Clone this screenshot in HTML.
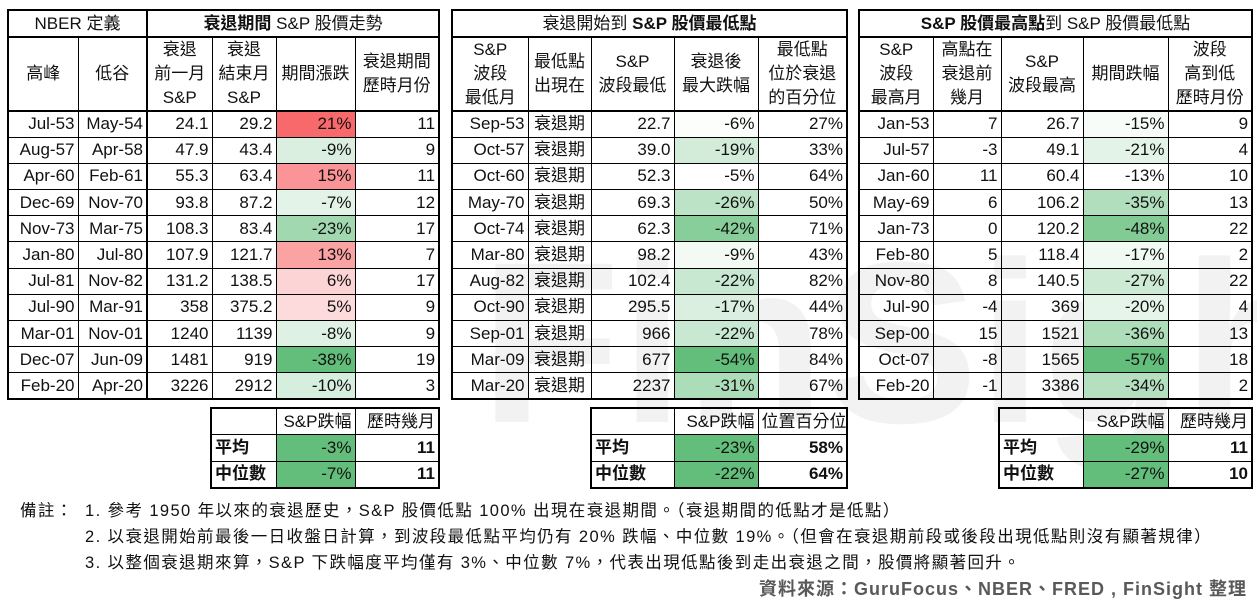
<!DOCTYPE html>
<html><head><meta charset="utf-8"><style>
*{margin:0;padding:0;box-sizing:border-box}
body{width:1257px;height:610px;background:#fff;position:relative;overflow:hidden;font-family:"Liberation Sans","Noto Sans CJK TC",sans-serif;color:#111}
table{position:absolute;border-collapse:collapse;table-layout:fixed;border:2px solid #000;font-size:17px}
td{border:1px solid #000;padding:0 3px;text-align:right;white-space:nowrap;overflow:hidden;line-height:22px}
tr.d td{height:26.2px}
tr.t td{height:27px;text-align:center;border-bottom:2px solid #000}
tr.h td{height:73px;text-align:center;line-height:24px;border-bottom:2px solid #000}
td.c{text-align:center}
.s td{height:26.5px}
.s td.l{text-align:left;font-weight:bold}
.g{background:#63BE7B}
.wmbox{position:absolute;left:470px;top:230px;width:787px;height:260px;overflow:hidden;z-index:-1}
.wm{position:absolute;left:10px;top:-20px;font-size:230px;font-weight:bold;color:#f2f2f2;white-space:nowrap}
.note{position:absolute;font-size:16.5px;color:#111;white-space:nowrap;letter-spacing:1.4px}
</style></head><body>
<div class="wmbox"><div class="wm">FinSight</div></div>

<table style="left:7px;top:9px;width:431px">
<colgroup><col style="width:70px"><col style="width:69px"><col style="width:65px"><col style="width:64px"><col style="width:79px"><col style="width:84px"></colgroup>
<tr class="t"><td colspan="2">NBER 定義</td><td colspan="4" style="border-left:2px solid #000"><b>衰退期間</b> S&amp;P 股價走勢</td></tr>
<tr class="h"><td>高峰</td><td style="border-right:2px solid #000">低谷</td><td>衰退<br>前一月<br>S&amp;P</td><td>衰退<br>結束月<br>S&amp;P</td><td>期間漲跌</td><td>衰退期間<br>歷時月份</td></tr>
<tr class="d"><td>Jul-53</td><td style="border-right:2px solid #000">May-54</td><td>24.1</td><td>29.2</td><td style="background:#F8696B">21%</td><td>11</td></tr>
<tr class="d"><td>Aug-57</td><td style="border-right:2px solid #000">Apr-58</td><td>47.9</td><td>43.4</td><td style="background:#DAEFDF">-9%</td><td>9</td></tr>
<tr class="d"><td>Apr-60</td><td style="border-right:2px solid #000">Feb-61</td><td>55.3</td><td>63.4</td><td style="background:#FA9496">15%</td><td>11</td></tr>
<tr class="d"><td>Dec-69</td><td style="border-right:2px solid #000">Nov-70</td><td>93.8</td><td>87.2</td><td style="background:#E3F3E7">-7%</td><td>12</td></tr>
<tr class="d"><td>Nov-73</td><td style="border-right:2px solid #000">Mar-75</td><td>108.3</td><td>83.4</td><td style="background:#A1D8B0">-23%</td><td>17</td></tr>
<tr class="d"><td>Jan-80</td><td style="border-right:2px solid #000">Jul-80</td><td>107.9</td><td>121.7</td><td style="background:#FBA2A3">13%</td><td>7</td></tr>
<tr class="d"><td>Jul-81</td><td style="border-right:2px solid #000">Nov-82</td><td>131.2</td><td>138.5</td><td style="background:#FDD4D5">6%</td><td>17</td></tr>
<tr class="d"><td>Jul-90</td><td style="border-right:2px solid #000">Mar-91</td><td>358</td><td>375.2</td><td style="background:#FDDBDC">5%</td><td>9</td></tr>
<tr class="d"><td>Mar-01</td><td style="border-right:2px solid #000">Nov-01</td><td>1240</td><td>1139</td><td style="background:#DEF1E3">-8%</td><td>9</td></tr>
<tr class="d"><td>Dec-07</td><td style="border-right:2px solid #000">Jun-09</td><td>1481</td><td>919</td><td style="background:#63BE7B">-38%</td><td>19</td></tr>
<tr class="d"><td>Feb-20</td><td style="border-right:2px solid #000">Apr-20</td><td>3226</td><td>2912</td><td style="background:#D6EEDD">-10%</td><td>3</td></tr>
</table>

<table style="left:451px;top:9px;width:395px">
<colgroup><col style="width:76px"><col style="width:63px"><col style="width:83px"><col style="width:84px"><col style="width:89px"></colgroup>
<tr class="t"><td colspan="5">衰退開始到 <b>S&amp;P 股價最低點</b></td></tr>
<tr class="h"><td>S&amp;P<br>波段<br>最低月</td><td>最低點<br>出現在</td><td>S&amp;P<br>波段最低</td><td>衰退後<br>最大跌幅</td><td>最低點<br>位於衰退<br>的百分位</td></tr>
<tr class="d"><td>Sep-53</td><td class="c">衰退期</td><td>22.7</td><td style="background:#FCFEFC">-6%</td><td>27%</td></tr>
<tr class="d"><td>Oct-57</td><td class="c">衰退期</td><td>39.0</td><td style="background:#D2ECD9">-19%</td><td>33%</td></tr>
<tr class="d"><td>Oct-60</td><td class="c">衰退期</td><td>52.3</td><td>-5%</td><td>64%</td></tr>
<tr class="d"><td>May-70</td><td class="c">衰退期</td><td>69.3</td><td style="background:#BCE3C6">-26%</td><td>50%</td></tr>
<tr class="d"><td>Oct-74</td><td class="c">衰退期</td><td>62.3</td><td style="background:#88CE9B">-42%</td><td>71%</td></tr>
<tr class="d"><td>Mar-80</td><td class="c">衰退期</td><td>98.2</td><td style="background:#F3FAF4">-9%</td><td>43%</td></tr>
<tr class="d"><td>Aug-82</td><td class="c">衰退期</td><td>102.4</td><td style="background:#C8E8D1">-22%</td><td>82%</td></tr>
<tr class="d"><td>Oct-90</td><td class="c">衰退期</td><td>295.5</td><td style="background:#DAEFDF">-17%</td><td>44%</td></tr>
<tr class="d"><td>Sep-01</td><td class="c">衰退期</td><td>966</td><td style="background:#C8E8D1">-22%</td><td>78%</td></tr>
<tr class="d"><td>Mar-09</td><td class="c">衰退期</td><td>677</td><td style="background:#63BE7B">-54%</td><td>84%</td></tr>
<tr class="d"><td>Mar-20</td><td class="c">衰退期</td><td>2237</td><td style="background:#ACDDB9">-31%</td><td>67%</td></tr>
</table>

<table style="left:858px;top:9px;width:393px">
<colgroup><col style="width:74px"><col style="width:68px"><col style="width:82px"><col style="width:85px"><col style="width:84px"></colgroup>
<tr class="t"><td colspan="5"><b>S&amp;P 股價最高點</b>到 S&amp;P 股價最低點</td></tr>
<tr class="h"><td>S&amp;P<br>波段<br>最高月</td><td>高點在<br>衰退前<br>幾月</td><td>S&amp;P<br>波段最高</td><td>期間跌幅</td><td>波段<br>高到低<br>歷時月份</td></tr>
<tr class="d"><td>Jan-53</td><td>7</td><td>26.7</td><td style="background:#F7FCF8">-15%</td><td>9</td></tr>
<tr class="d"><td>Jul-57</td><td>-3</td><td>49.1</td><td style="background:#E3F3E7">-21%</td><td>4</td></tr>
<tr class="d"><td>Jan-60</td><td>11</td><td>60.4</td><td>-13%</td><td>10</td></tr>
<tr class="d"><td>May-69</td><td>6</td><td>106.2</td><td style="background:#B1DFBD">-35%</td><td>13</td></tr>
<tr class="d"><td>Jan-73</td><td>0</td><td>120.2</td><td style="background:#82CB95">-48%</td><td>22</td></tr>
<tr class="d"><td>Feb-80</td><td>5</td><td>118.4</td><td style="background:#F1F9F3">-17%</td><td>2</td></tr>
<tr class="d"><td>Nov-80</td><td>8</td><td>140.5</td><td style="background:#CDEAD5">-27%</td><td>22</td></tr>
<tr class="d"><td>Jul-90</td><td>-4</td><td>369</td><td style="background:#E6F5EA">-20%</td><td>4</td></tr>
<tr class="d"><td>Sep-00</td><td>15</td><td>1521</td><td style="background:#AEDDBA">-36%</td><td>13</td></tr>
<tr class="d"><td>Oct-07</td><td>-8</td><td>1565</td><td style="background:#63BE7B">-57%</td><td>18</td></tr>
<tr class="d"><td>Feb-20</td><td>-1</td><td>3386</td><td style="background:#B4E0C0">-34%</td><td>2</td></tr>
</table>

<table class="s" style="left:210px;top:407px;width:228px">
<colgroup><col style="width:65px"><col style="width:79px"><col style="width:84px"></colgroup>
<tr><td></td><td>S&amp;P跌幅</td><td>歷時幾月</td></tr>
<tr><td class="l">平均</td><td class="g">-3%</td><td><b>11</b></td></tr>
<tr><td class="l">中位數</td><td class="g">-7%</td><td><b>11</b></td></tr>
</table>

<table class="s" style="left:590px;top:407px;width:256px">
<colgroup><col style="width:83px"><col style="width:84px"><col style="width:89px"></colgroup>
<tr><td></td><td>S&amp;P跌幅</td><td>位置百分位</td></tr>
<tr><td class="l">平均</td><td class="g">-23%</td><td><b>58%</b></td></tr>
<tr><td class="l">中位數</td><td class="g">-22%</td><td><b>64%</b></td></tr>
</table>

<table class="s" style="left:998px;top:407px;width:253px">
<colgroup><col style="width:84px"><col style="width:85px"><col style="width:84px"></colgroup>
<tr><td></td><td>S&amp;P跌幅</td><td>歷時幾月</td></tr>
<tr><td class="l">平均</td><td class="g">-29%</td><td><b>11</b></td></tr>
<tr><td class="l">中位數</td><td class="g">-27%</td><td><b>10</b></td></tr>
</table>

<div class="note" style="left:20px;top:497px">備註：</div>
<div class="note" style="left:85px;top:497px">1. 參考 1950 年以來的衰退歷史，S&amp;P 股價低點 100% 出現在衰退期間。（衰退期間的低點才是低點）</div>
<div class="note" style="left:85px;top:523px">2. 以衰退開始前最後一日收盤日計算，到波段最低點平均仍有 20% 跌幅、中位數 19%。（但會在衰退期前段或後段出現低點則沒有顯著規律）</div>
<div class="note" style="left:85px;top:549px">3. 以整個衰退期來算，S&amp;P 下跌幅度平均僅有 3%、中位數 7%，代表出現低點後到走出衰退之間，股價將顯著回升。</div>
<div class="note" style="right:10px;top:575px;font-size:18px;color:#595959;font-weight:bold;letter-spacing:1px">資料來源：GuruFocus、NBER、FRED , FinSight 整理</div>
</body></html>
